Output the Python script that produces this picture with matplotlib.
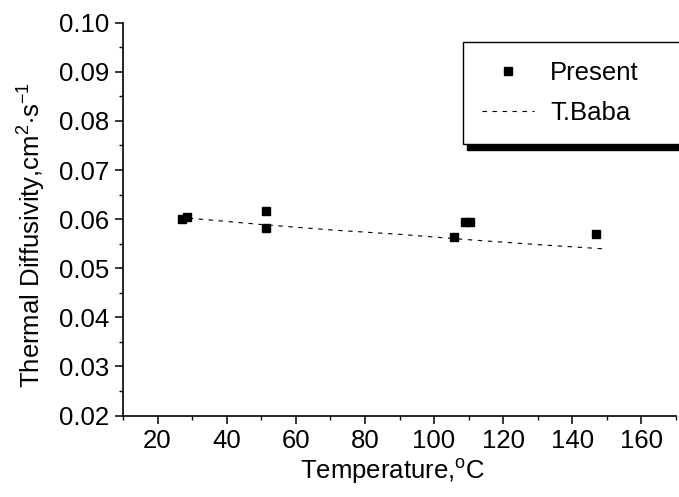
import matplotlib
matplotlib.use("Agg")
import matplotlib.pyplot as plt
from matplotlib.ticker import MultipleLocator, FormatStrFormatter

plt.rcParams['font.family'] = ['Liberation Sans', 'DejaVu Sans']
plt.rcParams['mathtext.fontset'] = 'custom'
plt.rcParams['mathtext.rm'] = 'Liberation Sans'
plt.rcParams['mathtext.it'] = 'Liberation Sans:italic'

# Data
present_T = [27.0, 28.5, 51.3, 51.3, 105.7, 109.0, 110.5, 146.9]
present_D = [0.0601, 0.0604, 0.0617, 0.0581, 0.0563, 0.0594, 0.0595, 0.0569]
baba_T = [29, 50, 70, 90, 110, 130, 150]
baba_D = [0.0602, 0.0589, 0.0578, 0.0569, 0.0558, 0.0548, 0.0539]

W, H = 679, 497
FS = 18.5
fig = plt.figure(figsize=(W / 100, H / 100), dpi=100)
ax = fig.add_axes([123 / W, 1 - 415.5 / H, (676 - 123) / W, (415.5 - 22.7) / H])

ax.plot(present_T, present_D, linestyle='none', marker='s', color='black',
        markersize=6, label='Present')
ax.plot(baba_T, baba_D, linestyle=(0, (4, 5)), color='black', linewidth=0.8,
        label='T.Baba')

ax.set_xlim(10, 170)
ax.set_ylim(0.02, 0.10)
ax.xaxis.set_major_locator(MultipleLocator(20))
ax.xaxis.set_minor_locator(MultipleLocator(10))
ax.yaxis.set_major_locator(MultipleLocator(0.01))
ax.yaxis.set_minor_locator(MultipleLocator(0.005))
ax.yaxis.set_major_formatter(FormatStrFormatter('%.2f'))
ax.xaxis.set_major_formatter(FormatStrFormatter('%d'))

for s in ['top', 'right']:
    ax.spines[s].set_visible(False)
for s in ['left', 'bottom']:
    ax.spines[s].set_linewidth(1.2)

ax.tick_params(which='major', direction='out', length=6, width=1.1,
               labelsize=FS, pad=4)
ax.tick_params(which='minor', direction='out', length=3, width=1.0)

ax.set_xlabel(r'Temperature,$^{\rm o}$C', fontsize=FS)
ax.set_ylabel(r'Thermal Diffusivity,cm$^{2}$$\cdot$s$^{-1}$', fontsize=FS)
ax.xaxis.set_label_coords(0.488, -0.105)
ax.yaxis.set_label_coords(-0.135, 0.46)

leg = ax.legend(loc='upper left', bbox_to_anchor=(463 / W, 1 - 42 / H, 260 / W, 0),
                bbox_transform=fig.transFigure, borderaxespad=0, mode='expand',
                fontsize=FS, frameon=True, fancybox=False,
                handlelength=2.0, handletextpad=0.65, borderpad=0.75,
                labelspacing=0.6,
                shadow={'ox': 3, 'oy': -4, 'facecolor': 'black',
                        'edgecolor': 'black', 'alpha': 1})
leg.get_frame().set_edgecolor('black')
leg.get_frame().set_linewidth(1.0)

fig.savefig('out.png', dpi=100)
